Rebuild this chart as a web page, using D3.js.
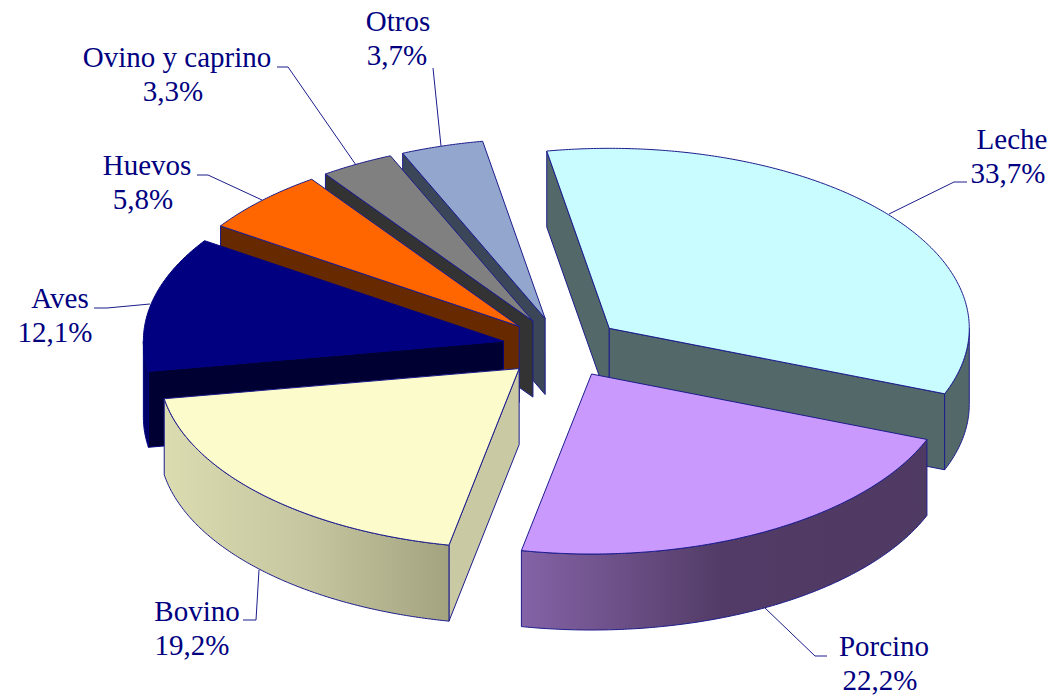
<!DOCTYPE html>
<html><head><meta charset="utf-8">
<script src="https://cdn.jsdelivr.net/npm/d3@7"></script>
<style>html,body{margin:0;padding:0;background:#fff}svg{display:block}</style>
</head><body><svg id="c" width="1055" height="699"></svg>
<script>
const categories = ["Leche","Porcino","Bovino","Aves","Huevos","Ovino y caprino","Otros"];
const values = [33.7,22.2,19.2,12.1,5.8,3.3,3.7];
const topColors = ["#C9FCFF","#CA99FD","#FCFBCC","#000080","#FF6600","#808080","#93A7CE"];
const faceColors = ["#536868","#523B66","#C9C9A3","#000033","#662900","#333333","#3B4658"];
const rimStops = [
  ["#536868","#536868"],
  ["#8463A6","#523B66","#4F3A63"],
  ["#DCDCB1","#C6C6A0","#A3A380"],
  ["#000070","#000060"],
  ["#662900","#662900"],
  ["#333333","#333333"],
  ["#3B4658","#3B4658"]
];
const edgeColors = ["#1C1C8C","#1C1C8C","#1C1C8C","#000080","#1C1C8C","#1C1C8C","#1C1C8C"];
const drawOrder = [0,6,5,4,3,1,2];

const W=1055,H=699, cx=562.5, cy=347.5, rx=360, ry=180, depth=76, explode=0.168;
const ink="#000080", edge="#1C1C8C";
const labelLayout = [
  {x:1012,x2:1008,y:149,line:[[967,182],[954,182],[889,214]]},
  {x:884,x2:880,y:656,line:[[827,656],[815,656],[765,608]]},
  {x:197,x2:192,y:621,line:[[243,620],[256,620],[259,570]]},
  {x:60,x2:55,y:308,line:[[94,308],[107,308],[150,304]]},
  {x:147,x2:143,y:175,line:[[197,175],[208,175],[262,200]]},
  {x:177,x2:173,y:67,line:[[277,67],[288,67],[356,165]]},
  {x:398,x2:397,y:31,line:[[433,68],[441,146]]}
];

const svg=d3.select("#c");
const defs=svg.append("defs");
const deg=Math.PI/180;
const pie=d3.pie().sort(null).value(d=>d).startAngle(-10*deg).endAngle(350*deg);
const arcs=pie(values);
const fmt=v=>d3.format(".1f")(v).replace(".",",")+"%";
const line=d3.line();

function slice(a){
  const mid=(a.startAngle+a.endAngle)/2;
  const ox=cx+explode*rx*Math.sin(mid), oy=cy-explode*ry*Math.cos(mid);
  const pt=t=>[ox+rx*Math.sin(t), oy-ry*Math.cos(t)];
  return {apex:[ox,oy],pt};
}
const down=p=>[p[0],p[1]+depth];
const samples=(a,b)=>{const n=Math.max(2,Math.ceil((b-a)/(0.5*deg)));return d3.range(n+1).map(i=>a+(b-a)*i/n);};

const g=svg.append("g");
drawOrder.forEach(i=>{
  const a=arcs[i], s=slice(a), A=s.apex, P=s.pt(a.startAngle), Q=s.pt(a.endAngle);
  const el=g.append("g").attr("class","slice").attr("data-name",categories[i]);
  const st=edgeColors[i];
  const quad=(p,q,fill)=>el.append("path")
    .attr("d",line([p,q,down(q),down(p)])+"Z")
    .attr("fill",fill).attr("stroke",st).attr("stroke-width",1).attr("stroke-linejoin","round");
  if(P[0]<A[0]) quad(A,P,faceColors[i]);
  if(A[0]<Q[0]) quad(Q,A,faceColors[i]);
  const lo=Math.max(a.startAngle,90*deg), hi=Math.min(a.endAngle,270*deg);
  if(hi>lo){
    const ts=samples(lo,hi), top=ts.map(s.pt), bot=top.map(down).reverse();
    const xs=top.map(p=>p[0]);
    const gid="rim"+i;
    const lg=defs.append("linearGradient").attr("id",gid).attr("gradientUnits","userSpaceOnUse")
      .attr("x1",d3.min(xs)).attr("x2",d3.max(xs)).attr("y1",0).attr("y2",0);
    const stops=rimStops[i];
    stops.forEach((c,k)=>lg.append("stop").attr("offset",k/(stops.length-1)).attr("stop-color",c));
    el.append("path").attr("d",line(top.concat(bot))+"Z").attr("fill",`url(#${gid})`)
      .attr("stroke",st).attr("stroke-width",1).attr("stroke-linejoin","round");
  }
  const pts=[A].concat(samples(a.startAngle,a.endAngle).map(s.pt));
  el.append("path").attr("d",line(pts)+"Z").attr("fill",topColors[i])
    .attr("stroke",st).attr("stroke-width",1).attr("stroke-linejoin","round");
});

const lab=svg.append("g");
categories.forEach((c,i)=>{
  const L=labelLayout[i];
  lab.append("path").attr("d",line(L.line)).attr("fill","none").attr("stroke",edge).attr("stroke-width",1);
  const t=lab.append("text").attr("text-anchor","middle").attr("fill",ink)
    .attr("font-family","'Liberation Serif','Times New Roman',serif").attr("font-size",29);
  t.append("tspan").attr("x",L.x).attr("y",L.y).text(c);
  t.append("tspan").attr("x",L.x2).attr("y",L.y+34).text(fmt(values[i]));
});
</script></body></html>
